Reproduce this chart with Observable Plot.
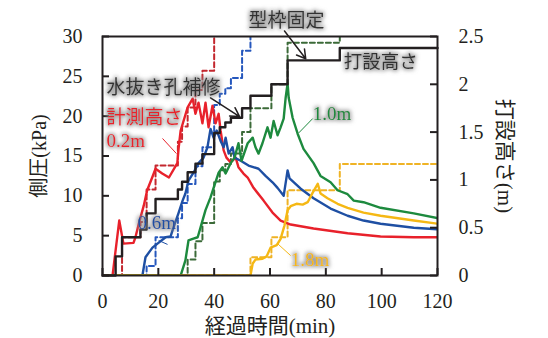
<!DOCTYPE html>
<html><head><meta charset="utf-8">
<script src="https://cdn.jsdelivr.net/npm/d3@7"></script>
<script src="https://cdn.jsdelivr.net/npm/@observablehq/plot@0.6"></script>
<style>body{margin:0;background:#fff}</style>
</head><body><div id="chart"></div>
<script>
const xTicks = [0, 20, 40, 60, 80, 100, 120];
const yTicksLeft = [0, 5, 10, 15, 20, 25, 30];
const yTicksRight = [0, 0.5, 1, 1.5, 2, 2.5];

// placement height 打設高さ (m)
const heightT = [0, 4.7, 7, 13.6, 15.8, 19, 27, 28.5, 30.5, 33.3, 35.8, 40, 42, 44, 46, 50, 53, 60.5, 66.3, 85, 120];
const heightM = [0, 0.2, 0.4, 0.48, 0.65, 0.8, 0.9, 0.98, 1.08, 1.17, 1.27, 1.49, 1.55, 1.6, 1.65, 1.75, 1.88, 2.0, 2.25, 2.38, 2.38];

// dashed (kPa)
const redDashT = [0, 7, 13.6, 15.8, 19, 27, 28.5, 30.5, 33.3, 35.8, 40];
const redDashV = [0, 4.8, 6.7, 10.8, 13.8, 16.8, 18.7, 21.1, 23.3, 25.7, 31];
const blueDashT = [0, 15.8, 19, 27, 28.5, 30.5, 33.3, 35.8, 40, 42, 44, 46, 50, 53];
const blueDashV = [0, 1.2, 4.8, 7.2, 9.1, 11.5, 13.7, 16.1, 21.4, 22.8, 23.5, 24.8, 28.2, 31];
const greenDashT = [0, 30.5, 33.3, 35.8, 40, 42, 44, 46, 50, 53, 60.5, 66.3, 85];
const greenDashV = [0, 2.0, 4.3, 6.6, 11.8, 13.2, 14.0, 15.3, 18.0, 21.0, 24.0, 29.2, 31];
const yellowDashT = [0, 53, 60.5, 66.3, 85, 120];
const yellowDashV = [0, 2.3, 4.8, 10.7, 14.0, 14.0];

// measured lateral pressure (kPa)
const redT = [0,3.6,6.0,7.5,11.1,11.8,13.0,14.8,16.0,17.8,19.0,21.4,23.8,26.8,27.3,28.0,30.5,32.3,33.3,34.4,35.8,36.9,38.0,39.4,40.5,41.6,42.3,43.4,44.4,45.9,47.7,48.7,50.5,52.0,54.1,57.7,60.9,63.8,67.4,75.6,87.8,99.6,111.5,120];
const redV = [0,0,6.9,4.0,4.1,4.8,6.5,8.8,10.7,12.3,13.4,12.8,12.3,14.1,16.1,18.2,21.1,22.2,20.3,21.7,19.1,21.7,18.6,21.3,19.1,20.3,18.2,15.7,14.8,14.2,14.8,13.6,12.8,12.3,11.0,9.4,7.9,6.9,6.4,5.9,5.3,4.9,4.8,4.8];
const blueT = [0,14.3,15.4,17.9,19.7,22.6,24.4,25.4,27.2,28.7,29.7,30.8,32.6,34.4,36.2,37.6,38.7,39.8,40.9,42.3,43.4,44.1,45.2,46.6,47.3,49.5,52.3,55.9,58.4,60.9,62.7,64.9,66.3,67.0,71.0,75.6,81.7,87.8,93.5,99.6,111.5,120];
const blueV = [0,0,2.3,3.5,4.0,4.8,4.9,6.0,7.8,9.4,10.3,11.9,12.9,14.1,14.8,16.1,18.4,17.3,18.2,16.9,16.1,17.3,15.3,16.1,14.8,14.4,13.8,13.4,12.5,11.7,11.0,10.0,13.2,12.2,10.9,9.7,8.4,7.5,6.9,6.5,6.0,5.8];
const greenT = [0,28,29.7,30.8,32.3,34.1,35.1,36.9,38.7,39.8,41.6,43.0,44.1,45.9,47.3,48.7,49.8,52.0,53.8,54.8,55.9,57.3,59.1,60.2,61.3,62.7,63.8,64.9,65.6,66.3,66.7,68.1,69.9,72.0,75.6,78.1,81.7,84.2,87.8,90.0,93.5,99.6,111.5,120];
const greenV = [0,0,1.9,4.4,4.6,4.8,6.0,8.2,9.8,11.0,12.9,13.6,12.8,14.1,14.8,16.6,14.4,16.6,17.3,16.1,15.3,16.6,18.6,17.3,19.4,17.6,18.6,19.7,22.3,24.1,22.3,19.8,17.8,15.9,14.1,12.5,11.7,10.7,10.2,9.4,9.2,8.5,7.8,7.2];
const yellowT = [0,53,53.8,54.8,57.3,58.8,60.2,62.4,63.8,65.2,66.3,67.4,69.5,71.7,73.5,75.3,77.1,78.1,80.6,84.2,87.8,93.5,99.6,111.5,120];
const yellowV = [0,0,1.5,2.0,2.1,2.4,3.5,3.8,4.6,6.3,8.2,8.7,9.0,8.9,9.2,10.4,11.5,10.3,9.7,9.0,8.5,7.9,7.5,6.9,6.5];

const mk = (ts, vs) => ts.map((t, i) => ({t, v: vs[i]}));
const M2K = 30 / 2.5; // right axis (m) to left axis (kPa)

const C = {
  red: "#e8212b", redD: "#c3272e",
  blue: "#1e4fa3", blueD: "#2557bd",
  green: "#1d8a3e", greenD: "#3b6a38",
  yellow: "#f5b814", yellowD: "#efb325",
  black: "#231f20"
};
const jp = "'Noto Sans CJK JP', sans-serif";
const serif = "'Liberation Serif', 'Noto Sans CJK JP', serif";
const dash = (data, color) => Plot.line(data, {x: "t", y: "v", curve: "step-after", stroke: color, strokeWidth: 2, strokeDasharray: "5,3", clip: true});
const solid = (data, color) => Plot.line(data, {x: "t", y: "v", stroke: color, strokeWidth: 2.4, strokeLinejoin: "round", clip: true});
const note = (txt, x, y, color, font, size) => Plot.text([txt], {x: () => x, y: () => y, text: d => d, textAnchor: "start", fill: color, fontFamily: font, fontSize: size, fillOpacity: 0.999});

const plot = Plot.plot({
  width: 548, height: 338,
  marginLeft: 102, marginRight: 111, marginTop: 36, marginBottom: 63,
  x: {domain: [0, 120]},
  y: {domain: [0, 30]},
  style: {fontFamily: serif, fontSize: "20px", color: C.black, background: "white", overflow: "visible"},
  marks: [
    dash(mk(redDashT, redDashV), C.redD),
    dash(mk(blueDashT, blueDashV), C.blueD),
    dash(mk(greenDashT, greenDashV), C.greenD),
    dash(mk(yellowDashT, yellowDashV), C.yellowD),
    solid(mk(redT, redV), C.red),
    solid(mk(blueT, blueV), C.blue),
    solid(mk(greenT, greenV), C.green),
    solid(mk(yellowT, yellowV), C.yellow),
    Plot.line(heightT.map((t, i) => ({t, h: heightM[i]})), {x: "t", y: d => d.h * M2K, curve: "step-after", stroke: C.black, strokeWidth: 2.4}),
    Plot.frame({stroke: C.black, strokeWidth: 2}),
    Plot.ruleY(yTicksLeft, {y: d => d, x1: 0, x2: 0, insetRight: -7, stroke: C.black, strokeWidth: 2}),
    Plot.ruleY(yTicksRight, {y: d => d * M2K, x1: 120, x2: 120, insetLeft: -7, stroke: C.black, strokeWidth: 2}),
    Plot.ruleX(xTicks, {x: d => d, y1: 0, y2: 0, insetBottom: 7, stroke: C.black, strokeWidth: 2}),
    Plot.axisY({anchor: "left", ticks: yTicksLeft, tickSize: 0, tickPadding: 20, label: null, fontSize: 20}),
    Plot.axisY({anchor: "right", ticks: yTicksRight.map(m => m * M2K), tickFormat: d => String(d / M2K), tickSize: 0, tickPadding: 21, label: null, fontSize: 20}),
    Plot.axisX({anchor: "bottom", ticks: xTicks, tickSize: 0, tickPadding: 18, label: null, fontSize: 20}),
    Plot.text(["側圧(kPa)"], {frameAnchor: "left", dx: -63, rotate: -90, textAnchor: "middle", lineAnchor: "middle", text: d => d, fontSize: 20, fill: C.black}),
    Plot.text(["打設高さ(m)"], {frameAnchor: "right", dx: 67, rotate: 90, textAnchor: "middle", lineAnchor: "middle", text: d => d, fontSize: 21, fill: C.black}),
    Plot.text(["経過時間(min)"], {frameAnchor: "bottom", dy: 51, textAnchor: "middle", lineAnchor: "middle", text: d => d, fontSize: 21, fill: C.black}),
    // leader lines
    Plot.link([0], {x1: () => 21.5, y1: () => 17.2, x2: () => 26.5, y2: () => 15.3, stroke: C.red, strokeWidth: 1}),
    Plot.link([0], {x1: () => 20.1, y1: () => 4.4, x2: () => 23.3, y2: () => 3.9, stroke: C.blue, strokeWidth: 1}),
    Plot.link([0], {x1: () => 75.3, y1: () => 19.7, x2: () => 70.3, y2: () => 17.9, stroke: C.green, strokeWidth: 1}),
    Plot.link([0], {x1: () => 67.4, y1: () => 2.5, x2: () => 62.7, y2: () => 4.0, stroke: C.yellow, strokeWidth: 1}),
    // arrows
    Plot.arrow([0], {x1: () => 65.2, y1: () => 30.7, x2: () => 72.8, y2: () => 27.2, stroke: C.black, strokeWidth: 1.5, headLength: 10}),
    Plot.arrow([0], {x1: () => 38.7, y1: () => 22.3, x2: () => 49.1, y2: () => 19.95, stroke: C.black, strokeWidth: 1.5, headLength: 10}),
    // annotations
    note("型枠固定", 52.3, 31.9, "#333", jp, 19),
    note("打設高さ", 86.4, 26.85, "#333", jp, 18.5),
    note("水抜き孔補修", 1.4, 23.5, "#333", jp, 19),
    note("計測高さ", 1.4, 19.8, C.red, jp, 19),
    note("0.2m", 1.4, 16.9, C.red, serif, 19),
    note("0.6m", 12.5, 6.65, C.blue, serif, 19),
    note("1.0m", 75.3, 20.3, C.green, serif, 19),
    note("1.8m", 67.4, 1.9, C.yellow, serif, 19)
  ]
});

const svg = d3.select(plot);
const defs = svg.insert("defs", ":first-child");
const f = defs.append("filter").attr("id", "glow").attr("x", "-20%").attr("y", "-50%").attr("width", "140%").attr("height", "200%");
f.append("feMorphology").attr("in", "SourceAlpha").attr("operator", "dilate").attr("radius", 1.2).attr("result", "d");
f.append("feGaussianBlur").attr("in", "d").attr("stdDeviation", 1.9).attr("result", "b");
f.append("feFlood").attr("flood-color", "#858585").attr("flood-opacity", 0.85);
f.append("feComposite").attr("in2", "b").attr("operator", "in").attr("result", "s");
const mg = f.append("feMerge");
mg.append("feMergeNode").attr("in", "s");
mg.append("feMergeNode").attr("in", "SourceGraphic");
svg.selectAll('g[fill-opacity="0.999"]').attr("filter", "url(#glow)");

document.getElementById("chart").appendChild(plot);
</script>
</body></html>
